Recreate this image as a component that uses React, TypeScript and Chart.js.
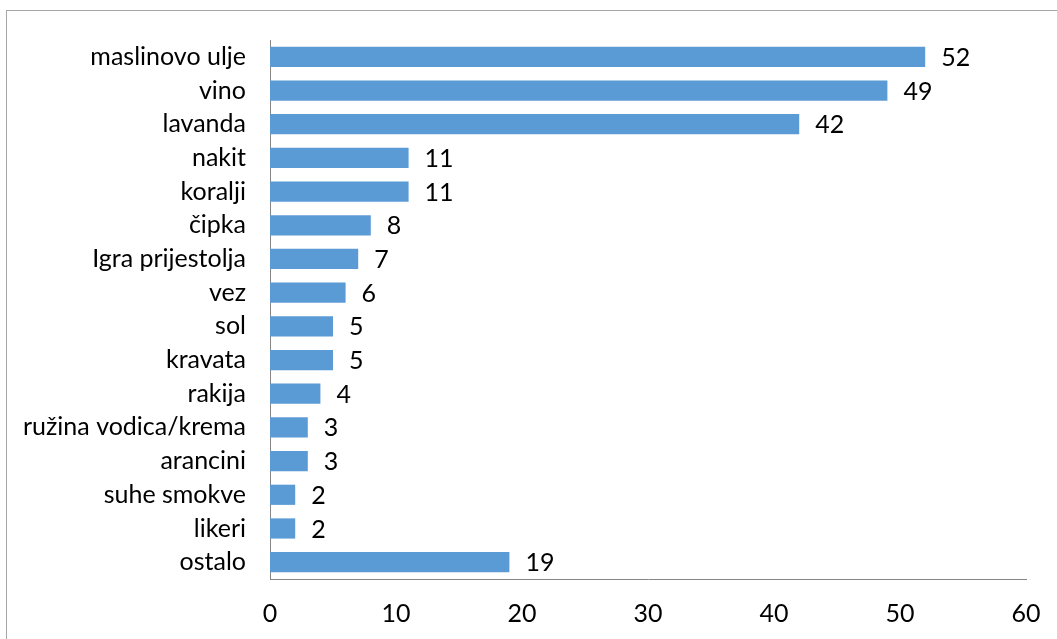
import React, { useEffect, useRef } from "react";
import { Chart, registerables } from "chart.js";

Chart.register(...registerables);

const categories = [
  "maslinovo ulje",
  "vino",
  "lavanda",
  "nakit",
  "koralji",
  "čipka",
  "Igra prijestolja",
  "vez",
  "sol",
  "kravata",
  "rakija",
  "ružina vodica/krema",
  "arancini",
  "suhe smokve",
  "likeri",
  "ostalo",
];
const values = [52, 49, 42, 11, 11, 8, 7, 6, 5, 5, 4, 3, 3, 2, 2, 19];
const xTicks = [0, 10, 20, 30, 40, 50, 60];

const FONT = "Lato, 'Open Sans', sans-serif";
const FSIZE = 25;

const frame = {
  id: "frame",
  beforeDraw(chart: any) {
    const ctx = chart.ctx;
    ctx.save();
    ctx.fillStyle = "#ffffff";
    ctx.fillRect(0, 0, chart.width, chart.height);
    ctx.strokeStyle = "#a6a6a6";
    ctx.lineWidth = 1;
    ctx.strokeRect(6.5, 10.5, chart.width + 10, chart.height + 10);
    ctx.restore();
  },
};

const valueLabels = {
  id: "valueLabels",
  afterDatasetsDraw(chart: any) {
    const ctx = chart.ctx;
    const meta = chart.getDatasetMeta(0);
    ctx.save();
    ctx.font = `${FSIZE}px ${FONT}`;
    ctx.fillStyle = "#000000";
    ctx.textAlign = "left";
    ctx.textBaseline = "middle";
    meta.data.forEach((bar: any, i: number) => {
      ctx.fillText(String(values[i]), bar.x + 16, bar.y + 1);
    });
    ctx.restore();
  },
};

export default function App() {
  const ref = useRef<HTMLCanvasElement>(null);
  useEffect(() => {
    if (!ref.current) return;
    const chart = new Chart(ref.current, {
      type: "bar",
      data: {
        labels: categories,
        datasets: [
          {
            data: values,
            backgroundColor: "#5b9bd5",
            borderWidth: 0,
            categoryPercentage: 1,
            barPercentage: 0.6,
          },
        ],
      },
      options: {
        indexAxis: "y",
        animation: false,
        responsive: false,
        maintainAspectRatio: false,
        layout: { padding: { left: 0, right: 31, top: 40, bottom: 0 } },
        plugins: {
          legend: { display: false },
          tooltip: { enabled: false },
        },
        scales: {
          x: {
            min: 0,
            max: 60,
            afterBuildTicks: (scale: any) => {
              scale.ticks = xTicks.map((v) => ({ value: v }));
            },
            afterFit: (scale: any) => {
              scale.height = 60;
              scale.paddingLeft = 0;
              scale.paddingRight = 0;
            },
            grid: { display: false, drawTicks: false },
            border: { display: true, color: "#868686", width: 1 },
            ticks: {
              padding: 20,
              color: "#000000",
              font: { family: FONT, size: FSIZE },
              maxRotation: 0,
            },
          },
          y: {
            afterFit: (scale: any) => {
              scale.width = 270;
              scale.paddingTop = 0;
              scale.paddingBottom = 0;
            },
            grid: { display: false, drawTicks: false },
            border: { display: true, color: "#868686", width: 1 },
            ticks: {
              padding: 24,
              color: "#000000",
              font: { family: FONT, size: FSIZE },
              autoSkip: false,
            },
          },
        },
      },
      plugins: [frame, valueLabels],
    });
    return () => chart.destroy();
  }, []);
  return (
    <div style={{ position: "fixed", left: 0, top: 0, width: 1057, height: 639 }}>
      <canvas ref={ref} width={1057} height={639} style={{ display: "block" }} />
    </div>
  );
}
